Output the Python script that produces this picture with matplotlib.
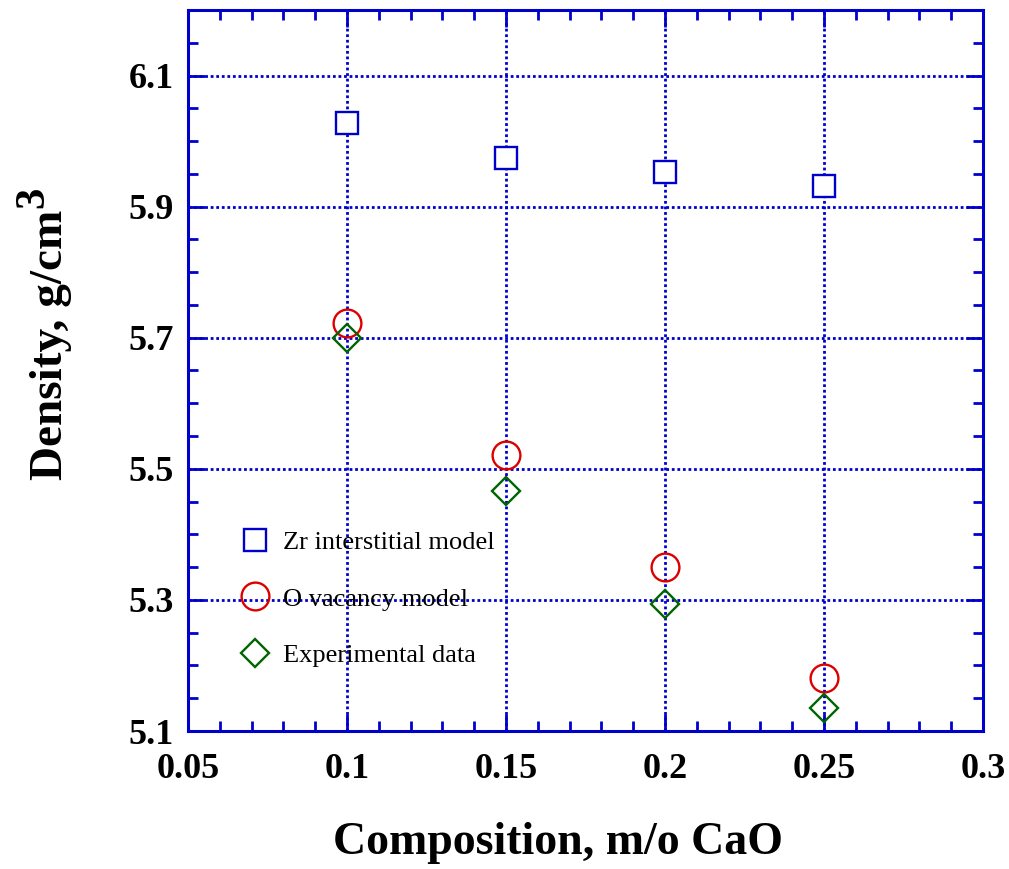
import matplotlib
matplotlib.use('Agg')
import matplotlib.pyplot as plt
from matplotlib.ticker import MultipleLocator

# Данные
composition = [0.10, 0.15, 0.20, 0.25]
zr_interstitial = [6.028, 5.974, 5.953, 5.932]
o_vacancy = [5.722, 5.521, 5.350, 5.181]
experimental = [5.699, 5.466, 5.294, 5.135]

xticks = [0.05, 0.1, 0.15, 0.2, 0.25, 0.3]
xtick_labels = ['0.05', '0.1', '0.15', '0.2', '0.25', '0.3']
yticks = [5.1, 5.3, 5.5, 5.7, 5.9, 6.1]
ytick_labels = ['5.1', '5.3', '5.5', '5.7', '5.9', '6.1']

BLUE = '#0000CC'
RED = '#DD0000'
GREEN = '#006400'

plt.rcParams['font.family'] = ['Liberation Serif', 'DejaVu Serif']

fig = plt.figure(figsize=(10.09, 8.69), dpi=100)
ax = fig.add_axes([0.1863, 0.1588, 0.7879, 0.8297])

ax.plot(composition, zr_interstitial, linestyle='none', marker='s', markersize=16.5,
        markerfacecolor='white', markeredgecolor=BLUE, markeredgewidth=1.7,
        label='Zr interstitial model', zorder=5)
ax.plot(composition, o_vacancy, linestyle='none', marker='o', markersize=20,
        markerfacecolor='none', markeredgecolor=RED, markeredgewidth=1.7,
        label='O vacancy model', zorder=5)
ax.plot(composition, experimental, linestyle='none', marker='D', markersize=14,
        markerfacecolor='none', markeredgecolor=GREEN, markeredgewidth=1.7,
        label='Experimental data', zorder=5)

ax.set_xlim(0.05, 0.3)
ax.set_ylim(5.1, 6.2)
ax.xaxis.set_minor_locator(MultipleLocator(0.01))
ax.yaxis.set_minor_locator(MultipleLocator(0.05))
ax.set_xticks(xticks)
ax.set_xticklabels(xtick_labels)
ax.set_yticks(yticks)
ax.set_yticklabels(ytick_labels)

for side in ax.spines.values():
    side.set_color(BLUE)
    side.set_linewidth(2.2)

ax.tick_params(which='both', direction='in', top=True, right=True, color=BLUE)
ax.tick_params(which='major', length=12, width=2, labelsize=26)
ax.tick_params(axis='y', which='major', pad=10)
ax.tick_params(axis='x', which='major', pad=16)
ax.tick_params(which='minor', length=7, width=2)
for lbl in ax.get_xticklabels() + ax.get_yticklabels():
    lbl.set_fontweight('bold')

ax.grid(True, which='major', color=BLUE, linestyle=(0, (1, 1)), linewidth=2)

ax.set_xlabel('Composition, m/o CaO', fontsize=33, fontweight='bold')
ax.xaxis.set_label_coords(0.465, -0.126)

# подпись оси Y с крупным показателем степени
ax.set_ylabel('Density, g/cm', fontsize=34, fontweight='bold')
ax.yaxis.set_label_coords(-0.146, 0.535)
ax.annotate('3', xy=(43, 1.0), xycoords=('figure pixels', ax.yaxis.label),
            xytext=(0, 2), textcoords='offset pixels', rotation=90,
            rotation_mode='anchor', ha='left', va='baseline',
            fontsize=31, fontweight='bold', annotation_clip=False)

ax.legend(loc='upper left', bbox_to_anchor=(0.048, 0.296), frameon=False,
          fontsize=19, handletextpad=0.45, labelspacing=1.25, borderpad=0,
          handlelength=1.2)

plt.savefig('out.png', dpi=100)
plt.close()
